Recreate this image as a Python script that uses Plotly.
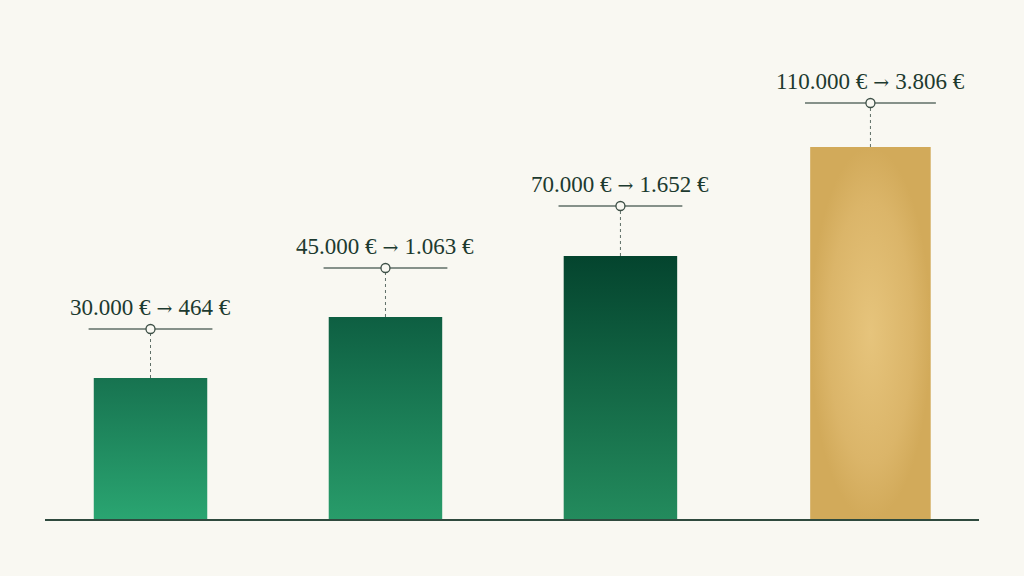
import plotly.graph_objects as go

# income -> tax, bar heights (visual units, baseline = 0)
incomes = [30000, 45000, 70000, 110000]
taxes = [464, 1063, 1652, 3806]
bar_heights = [141, 202, 263, 372]


def euro(v):
    return f"{v:,}".replace(",", ".") + " €"


arrow = '<span style="font-family:DejaVu Serif;font-size:19px"> → </span>'
labels = [f"{euro(a)}{arrow}{euro(b)}" for a, b in zip(incomes, taxes)]

# styling
bg = "#f9f8f2"
ink = "#1d3a2f"
rule = "#5f6f67"
gold_shift = 0.064
widths = [0.483, 0.483, 0.483, 0.513]
gaps = [49, 49, 50, 44]
fills = [
    dict(type="vertical", colorscale=[[0, "#2aa571"], [1, "#177350"]]),
    dict(type="vertical", colorscale=[[0, "#289c6a"], [1, "#0e5f42"]]),
    dict(type="vertical", colorscale=[[0, "#238b5d"], [1, "#04442e"]]),
    dict(type="radial", colorscale=[[0, "#e6c47c"], [0.7, "#dbb569"], [1, "#d2aa5a"]]),
]

centers = [i + (gold_shift if i == 3 else 0) for i in range(len(bar_heights))]

fig = go.Figure()

for c, h, w, f in zip(centers, bar_heights, widths, fills):
    fig.add_trace(go.Scatter(
        x=[c - w / 2, c + w / 2, c + w / 2, c - w / 2, c - w / 2],
        y=[0, 0, h, h, 0],
        mode="lines", line=dict(width=0), fill="toself",
        fillgradient=f, hoverinfo="skip", showlegend=False))

for c, h, w, g, lab in zip(centers, bar_heights, widths, gaps, labels):
    top = h + g
    # dotted leader from bar top to the marker
    fig.add_trace(go.Scatter(x=[c, c], y=[h, top], mode="lines",
                             line=dict(color=rule, width=1, dash="dot"),
                             hoverinfo="skip", showlegend=False))
    # horizontal rule under the label
    fig.add_trace(go.Scatter(x=[c - w / 2 - 0.022, c + w / 2 + 0.022], y=[top, top],
                             mode="lines", line=dict(color=rule, width=1.4),
                             hoverinfo="skip", showlegend=False))
    fig.add_trace(go.Scatter(x=[c], y=[top], mode="markers",
                             marker=dict(size=9, color=bg, line=dict(color="#3d4f46", width=1.3)),
                             hoverinfo="skip", showlegend=False))
    fig.add_annotation(x=c, y=top, text=lab, showarrow=False, yshift=22,
                       yanchor="middle",
                       font=dict(family="Liberation Serif, Times New Roman, serif", size=23, color=ink))

fig.update_layout(
    width=1024, height=576,
    paper_bgcolor=bg, plot_bgcolor=bg,
    margin=dict(l=45, r=45, t=0, b=57),
    xaxis=dict(range=[-0.449, 3.526], showgrid=False, zeroline=False, showticklabels=False,
               showline=True, linecolor="#2f4a3e", linewidth=1.5, ticks=""),
    yaxis=dict(range=[0, 519], showgrid=False, zeroline=False, showticklabels=False),
    showlegend=False,
)

fig.write_html("out.html", config={"displayModeBar": False},
               post_script="document.body.style.margin='0';document.body.style.background='#f9f8f2';")
